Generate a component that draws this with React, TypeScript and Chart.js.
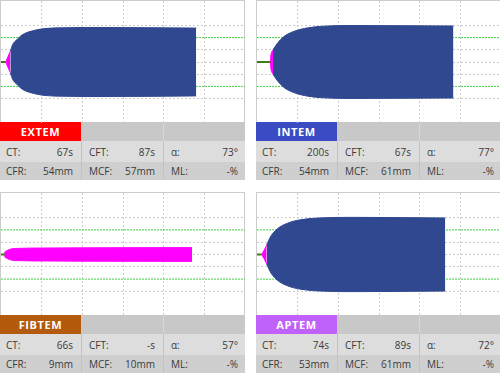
import React, { useEffect, useRef } from "react";
import { Chart, registerables } from "chart.js";

Chart.register(...registerables);

// time in minutes, half-amplitude in mm
const EXTEM_PINK_T = [1.15, 1.7, 2.3];
const EXTEM_PINK_A = [0, 4.3, 8.8];
const EXTEM_BLUE_T = [2.3, 2.87, 3.69, 5.33, 7.38, 10.66, 14.75, 24.6, 48.0];
const EXTEM_BLUE_A = [8.8, 14.3, 17.6, 22.5, 25.2, 27.4, 28.0, 28.3, 27.8];
const EXTEM_CT = 1.15;

const INTEM_PINK_T = [3.28, 3.36, 3.44, 3.93];
const INTEM_PINK_A = [0, 3.5, 6.0, 10.0];
const INTEM_BLUE_T = [3.93, 5.08, 6.72, 9.18, 12.46, 16.56, 23.1, 48.3];
const INTEM_BLUE_A = [10.0, 15.6, 21.1, 25.2, 28.0, 29.4, 29.9, 29.5];
const INTEM_CT = 3.28;

const FIBTEM_PINK_T = [0.85, 0.92, 1.23, 2.05, 3.3, 12.3, 24.6, 47.0];
const FIBTEM_PINK_A = [0, 1.8, 2.7, 4.1, 4.9, 5.3, 5.5, 5.6];
const FIBTEM_BLUE_T: number[] = [];
const FIBTEM_BLUE_A: number[] = [];
const FIBTEM_CT = 0.9;

const APTEM_PINK_T = [1.15, 1.8, 2.38];
const APTEM_PINK_A = [0, 3.8, 7.7];
const APTEM_BLUE_T = [2.38, 2.62, 3.44, 5.08, 7.54, 10.8, 14.9, 23.1, 46.3];
const APTEM_BLUE_A = [7.7, 9.6, 15.1, 21.1, 25.5, 28.3, 29.6, 30.2, 29.7];
const APTEM_CT = 1.15;

const REF_LINES = [20, -20];
const TIME_MAX = 60;
const AMP_MAX = 50;

const EXTEM_STATS = ["67s", "87s", "73°", "54mm", "57mm", "-%"];
const INTEM_STATS = ["200s", "67s", "77°", "54mm", "61mm", "-%"];
const FIBTEM_STATS = ["66s", "-s", "57°", "9mm", "10mm", "-%"];
const APTEM_STATS = ["74s", "89s", "72°", "53mm", "61mm", "-%"];
const STAT_LABELS = ["CT:", "CFT:", "α:", "CFR:", "MCF:", "ML:"];

const BLUE = "#2f4890";
const PINK = "#ff00ff";
const GREEN_TRACE = "#3d7d0b";
const GREEN_REF = "#3fd43f";
const GRID_GRAY = "#cccccc";

type Trace = {
  pinkT: number[];
  pinkA: number[];
  blueT: number[];
  blueA: number[];
  ct: number;
};

function pts(t: number[], a: number[], sign: number) {
  return t.map((x, i) => ({ x, y: sign * a[i] }));
}

function TraceChart({ trace, width, height }: { trace: Trace; width: number; height: number }) {
  const ref = useRef<HTMLCanvasElement>(null);
  useEffect(() => {
    if (!ref.current) return;
    const edge = (data: any[], color: string, order: number, fill: any) => ({
      data,
      borderColor: color,
      backgroundColor: color,
      borderWidth: 1,
      pointRadius: 0,
      fill,
      cubicInterpolationMode: "monotone",
      order,
    });
    const datasets: any[] = [];
    datasets.push({
      data: [
        { x: 0, y: 0 },
        { x: trace.ct, y: 0 },
      ],
      borderColor: GREEN_TRACE,
      borderWidth: 2,
      pointRadius: 0,
      fill: false,
      order: 0,
    });
    if (trace.blueT.length) {
      datasets.push(edge(pts(trace.blueT, trace.blueA, 1), BLUE, 2, false));
      datasets.push(edge(pts(trace.blueT, trace.blueA, -1), BLUE, 2, "-1"));
    }
    datasets.push(edge(pts(trace.pinkT, trace.pinkA, 1), PINK, 1, false));
    datasets.push(edge(pts(trace.pinkT, trace.pinkA, -1), PINK, 1, "-1"));
    REF_LINES.forEach((v) =>
      datasets.push({
        data: [
          { x: 0, y: v },
          { x: TIME_MAX, y: v },
        ],
        borderColor: GREEN_REF,
        borderWidth: 1,
        borderDash: [2, 1],
        pointRadius: 0,
        fill: false,
        order: 10,
      })
    );
    const chart = new Chart(ref.current, {
      type: "line",
      data: { datasets },
      options: {
        animation: false,
        responsive: false,
        maintainAspectRatio: false,
        layout: { padding: 0 },
        plugins: { legend: { display: false }, tooltip: { enabled: false } },
        scales: {
          x: {
            type: "linear",
            min: 0,
            max: TIME_MAX,
            ticks: { display: false, stepSize: 10 },
            grid: {
              drawTicks: false,
              color: (ctx: any) =>
                ctx.tick && ctx.tick.value > 0 && ctx.tick.value < TIME_MAX ? GRID_GRAY : "rgba(0,0,0,0)",
            },
            border: { display: false, dash: [2, 2] },
          },
          y: {
            type: "linear",
            min: -AMP_MAX,
            max: AMP_MAX,
            ticks: { display: false, stepSize: 10 },
            grid: {
              drawTicks: false,
              color: (ctx: any) => {
                const v = ctx.tick ? Math.abs(ctx.tick.value) : 99;
                return v === 0 || v === 10 || v === 30 ? GRID_GRAY : "rgba(0,0,0,0)";
              },
            },
            border: { display: false, dash: [2, 2] },
          },
        },
      } as any,
    });
    return () => chart.destroy();
  }, [trace]);
  return (
    <canvas
      ref={ref}
      width={width}
      height={height}
      style={{ position: "absolute", left: 0, top: 0, width, height }}
    />
  );
}

function Panel({
  left,
  top,
  plotH,
  name,
  color,
  stats,
  trace,
}: {
  left: number;
  top: number;
  plotH: number;
  name: string;
  color: string;
  stats: string[];
  trace: Trace;
}) {
  const W = 244;
  const colW = [81, 82, 81];
  const font = "'Open Sans', sans-serif";
  const row = (idx: number, bg: string, h: number) => (
    <div style={{ display: "flex", height: h, background: bg }}>
      {[0, 1, 2].map((c) => (
        <div
          key={c}
          style={{
            width: colW[c],
            boxSizing: "border-box",
            borderLeft: c > 0 ? "1px solid #c2c2c2" : "none",
            display: "flex",
            justifyContent: "space-between",
            alignItems: "center",
            paddingLeft: c === 0 ? 6 : 7,
            paddingRight: c === 2 ? 6 : 8,
            fontSize: 10,
            color: "#3a3a3a",
            fontFamily: font,
          }}
        >
          <span>{STAT_LABELS[idx * 3 + c]}</span>
          <span>{stats[idx * 3 + c]}</span>
        </div>
      ))}
    </div>
  );
  return (
    <div style={{ position: "absolute", left, top, width: W + 1 }}>
      <div
        style={{
          position: "relative",
          width: W + 1,
          height: plotH,
          boxSizing: "border-box",
          borderTop: "1px solid #cccccc",
          borderLeft: "1px solid #cccccc",
          borderRight: "1px solid #cccccc",
        }}
      >
        <TraceChart trace={trace} width={W} height={plotH} />
      </div>
      <div style={{ display: "flex", height: 19, background: "#c8c8c8" }}>
        <div
          style={{
            width: 81,
            background: color,
            color: "#ffffff",
            fontWeight: 700,
            fontSize: 11,
            letterSpacing: 0.6,
            fontFamily: font,
            display: "flex",
            alignItems: "center",
            justifyContent: "center",
          }}
        >
          {name}
        </div>
        <div style={{ width: 82 }} />
        <div style={{ width: 81, borderLeft: "1px solid #d6d6d6", boxSizing: "border-box" }} />
      </div>
      {row(0, "#dddddd", 21)}
      {row(1, "#cfcfcf", 18)}
    </div>
  );
}

export default function App() {
  return (
    <div style={{ position: "absolute", left: 0, top: 0, width: 500, height: 373, background: "#ffffff", overflow: "hidden" }}>
      <Panel
        left={0}
        top={0}
        plotH={122}
        name="EXTEM"
        color="#ff0000"
        stats={EXTEM_STATS}
        trace={{ pinkT: EXTEM_PINK_T, pinkA: EXTEM_PINK_A, blueT: EXTEM_BLUE_T, blueA: EXTEM_BLUE_A, ct: EXTEM_CT }}
      />
      <Panel
        left={256}
        top={0}
        plotH={122}
        name="INTEM"
        color="#3b4bc4"
        stats={INTEM_STATS}
        trace={{ pinkT: INTEM_PINK_T, pinkA: INTEM_PINK_A, blueT: INTEM_BLUE_T, blueA: INTEM_BLUE_A, ct: INTEM_CT }}
      />
      <Panel
        left={0}
        top={192}
        plotH={123}
        name="FIBTEM"
        color="#b35a0c"
        stats={FIBTEM_STATS}
        trace={{ pinkT: FIBTEM_PINK_T, pinkA: FIBTEM_PINK_A, blueT: FIBTEM_BLUE_T, blueA: FIBTEM_BLUE_A, ct: FIBTEM_CT }}
      />
      <Panel
        left={256}
        top={192}
        plotH={123}
        name="APTEM"
        color="#c061fa"
        stats={APTEM_STATS}
        trace={{ pinkT: APTEM_PINK_T, pinkA: APTEM_PINK_A, blueT: APTEM_BLUE_T, blueA: APTEM_BLUE_A, ct: APTEM_CT }}
      />
    </div>
  );
}
